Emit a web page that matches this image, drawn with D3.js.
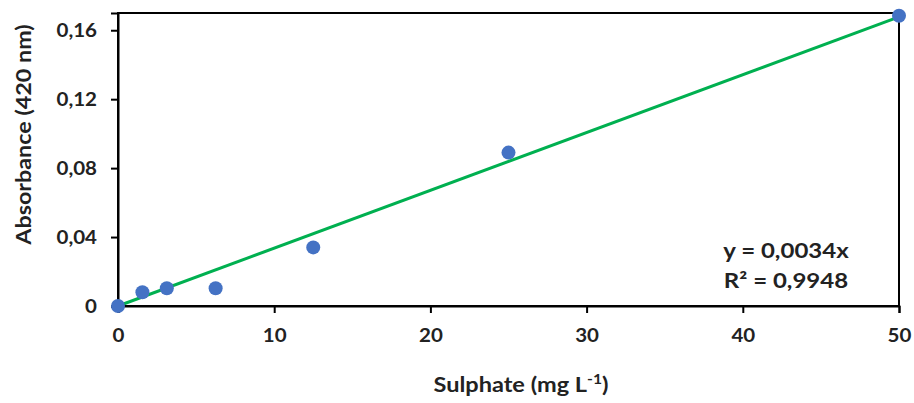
<!DOCTYPE html>
<html>
<head>
<meta charset="utf-8">
<script src="https://cdn.jsdelivr.net/npm/d3@7/dist/d3.min.js"></script>
<style>
  html, body { margin: 0; padding: 0; background: #fff; }
  svg { display: block; }
  text { font-family: Lato, "Open Sans", sans-serif; font-weight: bold; fill: #222; }
</style>
</head>
<body>
<svg id="chart" width="914" height="403"></svg>
<script>
// Sulphate calibration standards (mg L-1) and measured absorbance at 420 nm
const concentrations = [0, 1.5625, 3.125, 6.25, 12.5, 25, 50];
const absorbances = [0, 0.008, 0.0103, 0.0103, 0.034, 0.089, 0.1684];

const xTicks = [0, 10, 20, 30, 40, 50];
const yTicks = [0, 0.04, 0.08, 0.12, 0.16];
const xDomain = [0, 50];
const yDomain = [0, 0.17];
const rSquaredLabel = "0,9948";

const svg = d3.select("#chart");
const margin = { left: 118, top: 13, right: 15, bottom: 97 };
const W = 914, H = 403;

const x = d3.scaleLinear().domain(xDomain).range([margin.left, W - margin.right]);
const y = d3.scaleLinear().domain(yDomain).range([H - margin.bottom, margin.top]);

// Least-squares fit forced through the origin
const sxy = d3.sum(concentrations, (c, i) => c * absorbances[i]);
const sxx = d3.sum(concentrations, c => c * c);
const slope = sxy / sxx;

const commaFmt = v => d3.format(".2~f")(v).replace(".", ",");

// Widen glyphs horizontally (a wide-set bold face)
function widen(sel, k) {
  sel.each(function () {
    const len = this.getComputedTextLength();
    d3.select(this).attr("textLength", len * k).attr("lengthAdjust", "spacingAndGlyphs");
  });
}

// Plot frame
svg.append("rect")
  .attr("x", x(xDomain[0])).attr("y", y(yDomain[1]))
  .attr("width", x(xDomain[1]) - x(xDomain[0]))
  .attr("height", y(yDomain[0]) - y(yDomain[1]))
  .attr("fill", "none").attr("stroke", "#000").attr("stroke-width", 2);

// Axes
const xAxis = svg.append("g")
  .attr("transform", `translate(0,${y(0)})`)
  .call(d3.axisBottom(x).tickValues(xTicks).tickSize(7).tickPadding(16).tickFormat(d3.format("d")));
const yAxis = svg.append("g")
  .attr("transform", `translate(${x(0)},0)`)
  .call(d3.axisLeft(y).tickValues(yTicks).tickSize(7).tickPadding(14)
    .tickFormat(d => d === 0 ? "0" : commaFmt(d)));

[xAxis, yAxis].forEach(g => {
  g.select(".domain").attr("stroke", "#000").attr("stroke-width", 2);
  g.selectAll(".tick line").attr("stroke", "#000").attr("stroke-width", 2);
  g.selectAll(".tick text").style("font-size", "19px").attr("fill", "#222")
    .call(widen, 1.08);
});

// Trendline
svg.append("line")
  .attr("x1", x(0)).attr("y1", y(0))
  .attr("x2", x(xDomain[1])).attr("y2", y(slope * xDomain[1]))
  .attr("stroke", "#00B050").attr("stroke-width", 3);

// Data points
svg.append("g").selectAll("circle")
  .data(concentrations)
  .join("circle")
  .attr("cx", d => x(d))
  .attr("cy", (d, i) => y(absorbances[i]))
  .attr("r", 7)
  .attr("fill", "#4472C4");

// Regression equation
const eq = svg.append("g").style("font-size", "20px");
eq.append("text").attr("x", 786).attr("y", 258).attr("text-anchor", "middle")
  .text("y = " + d3.format(".2r")(slope).replace(".", ",") + "x")
  .call(widen, 1.2);
eq.append("text").attr("x", 786).attr("y", 288).attr("text-anchor", "middle")
  .text("R² = " + rSquaredLabel)
  .call(widen, 1.2);

// Axis titles
const xt = svg.append("text").attr("x", 521).attr("y", 392).attr("text-anchor", "middle")
  .style("font-size", "21px");
xt.append("tspan").text("Sulphate (mg L");
xt.append("tspan").attr("dy", -8).style("font-size", "14px").text("-1");
xt.append("tspan").attr("dy", 8).text(")");
xt.call(widen, 1.12);

svg.append("text")
  .attr("transform", "translate(31,134.5) rotate(-90)")
  .attr("text-anchor", "middle")
  .style("font-size", "21px")
  .text("Absorbance (420 nm)")
  .call(widen, 1.11);
</script>
</body>
</html>
